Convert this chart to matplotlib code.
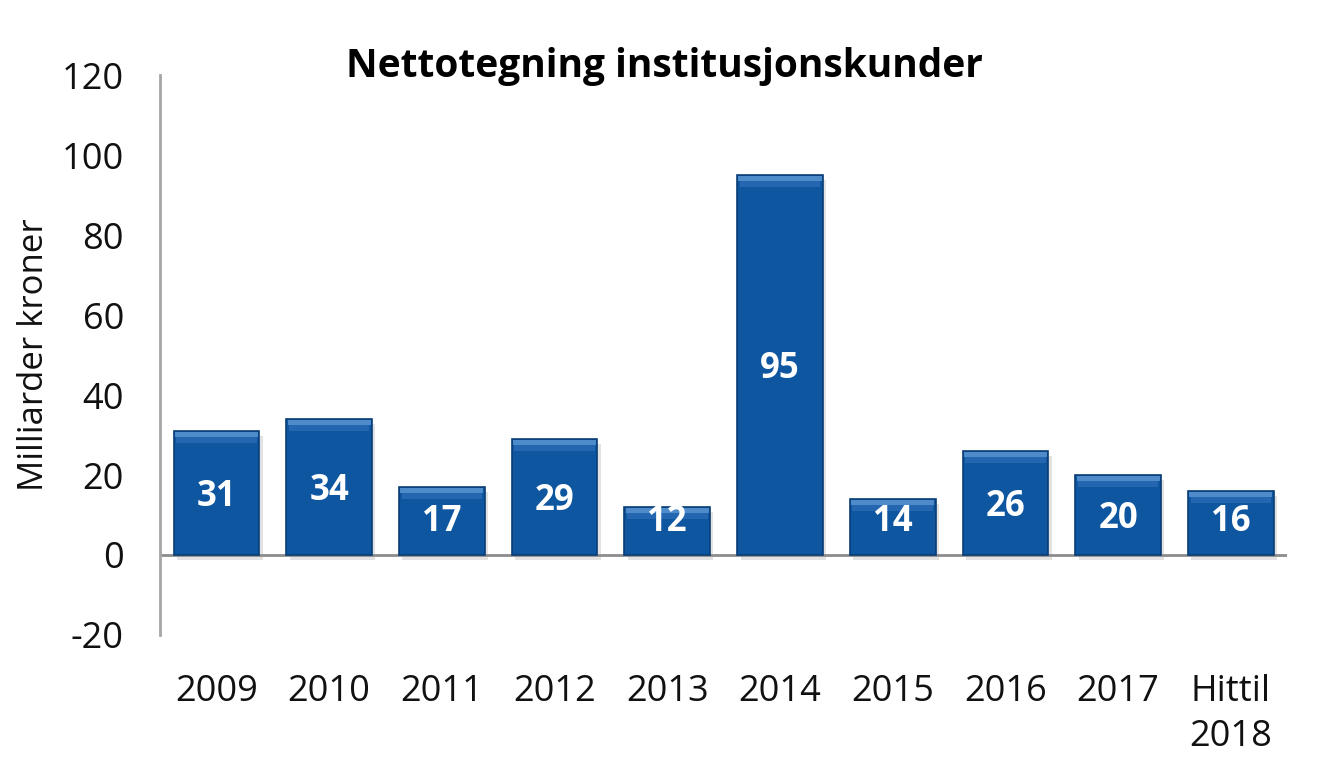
import matplotlib.pyplot as plt
import numpy as np

# Data
years = ["2009", "2010", "2011", "2012", "2013", "2014", "2015", "2016", "2017", "Hittil\n2018"]
values = [31, 34, 17, 29, 12, 95, 14, 26, 20, 16]

plt.rcParams['font.family'] = ['Open Sans', 'DejaVu Sans']
plt.rcParams['axes.unicode_minus'] = False

fig = plt.figure(figsize=(13.27, 7.71), dpi=100)
ax = fig.add_axes([0.1206, 0.1764, 0.8494, 0.7263])

x = np.arange(len(values))
w = 0.76
vals = np.array(values)

# soft shadow under the bars
ax.bar(x + 0.03, vals, width=w, bottom=-1.2, color='#7f7f7f', alpha=0.22, zorder=1)
# the bars
ax.bar(x, vals, width=w, color='#0f56a0', edgecolor='#0a3d75', linewidth=1.2, zorder=2)
# light bevel on top of each bar
ax.bar(x, [1.3] * len(values), width=w * 0.97, bottom=vals - 1.5,
       color='#5a95d3', alpha=0.85, zorder=3, linewidth=0)
ax.bar(x, [1.6] * len(values), width=w * 0.94, bottom=vals - 3.1,
       color='#2a6cb5', alpha=0.8, zorder=3, linewidth=0)

# value labels inside the bars
for xi, v in zip(x, values):
    ax.annotate(str(v), (xi, max(v / 2, 9.3)), xytext=(0, -3), textcoords='offset points',
                color='white', fontsize=25, fontweight='bold',
                ha='center', va='center', zorder=4)

ax.set_xlim(-0.5, len(values) - 0.5)
ax.set_ylim(-20, 120)
ax.set_yticks(range(-20, 121, 20))
ax.set_xticks(x)
ax.set_xticklabels(years, linespacing=1.35)
ax.axhline(0, color='#8c8c8c', linewidth=2, zorder=1)

for s in ['top', 'right', 'bottom']:
    ax.spines[s].set_visible(False)
ax.spines['left'].set_color('#a6a6a6')
ax.spines['left'].set_linewidth(2)
ax.tick_params(axis='y', length=0, pad=26, labelsize=26, colors='#111111')
ax.tick_params(axis='x', length=0, pad=28, labelsize=26, colors='#111111')
for lbl in ax.get_xticklabels():
    lbl.set_va('top')

ax.set_ylabel("Milliarder kroner", fontsize=25, color='#111111')
ax.yaxis.set_label_coords(-0.097, 0.5)
fig.text(0.501, 1 - 77 / 771, "Nettotegning institusjonskunder", fontsize=28,
         fontweight='bold', ha='center', va='baseline')

fig.savefig("out.png", dpi=100)
